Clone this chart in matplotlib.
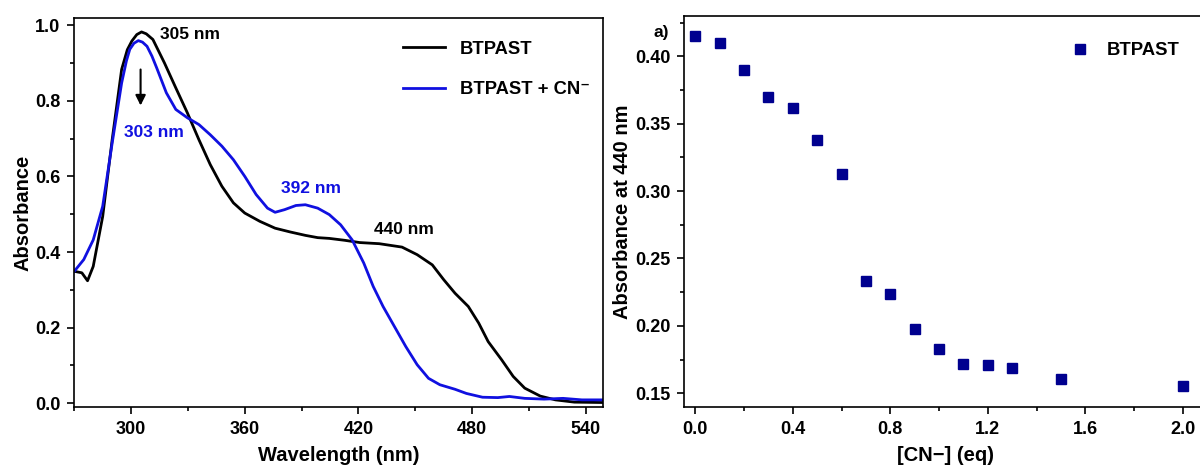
import matplotlib.pyplot as plt
from matplotlib.ticker import MultipleLocator

plt.rcParams['font.family'] = ['Liberation Sans', 'DejaVu Sans']
plt.rcParams['font.weight'] = 'bold'

# UV-vis spectra
wl_btpast = [270, 274, 277, 280, 285, 290, 295, 298, 300.4, 303, 305.5, 308, 311.5,
             317.6, 323.6, 329.7, 335.8, 341.8, 347.9, 354, 360, 368, 376, 384, 392,
             398.5, 404.6, 412.7, 420.7, 431, 443, 451, 459, 465, 471, 478, 483.5,
             488.5, 495.6, 501.7, 507.8, 516, 524, 534, 549]
abs_btpast = [0.349, 0.345, 0.324, 0.362, 0.494, 0.697, 0.883, 0.935, 0.958, 0.975,
              0.982, 0.977, 0.962, 0.900, 0.834, 0.768, 0.697, 0.631, 0.574, 0.530,
              0.503, 0.481, 0.463, 0.453, 0.444, 0.438, 0.436, 0.431, 0.425, 0.422,
              0.413, 0.393, 0.366, 0.327, 0.291, 0.256, 0.212, 0.163, 0.115, 0.071,
              0.040, 0.019, 0.009, 0.003, 0.002]

wl_cn = [270, 275, 280, 285, 290, 295, 297.5, 299.3, 301.5, 303.8, 306, 308.4, 311,
         313.5, 318.6, 323.6, 329.7, 335.8, 341.8, 347.9, 354, 360, 366, 372, 376,
         381, 387, 392, 398.5, 404.6, 410.6, 416.7, 422.8, 427.8, 433, 439, 445, 451,
         457, 463, 471, 477, 485.5, 493.6, 499.7, 507.8, 518, 528, 538, 549]
abs_cn = [0.349, 0.380, 0.432, 0.521, 0.688, 0.847, 0.905, 0.936, 0.952, 0.959, 0.955,
          0.944, 0.918, 0.887, 0.821, 0.777, 0.755, 0.737, 0.710, 0.680, 0.644, 0.600,
          0.552, 0.516, 0.505, 0.512, 0.523, 0.525, 0.516, 0.499, 0.472, 0.432, 0.371,
          0.309, 0.256, 0.203, 0.150, 0.102, 0.066, 0.049, 0.037, 0.026, 0.016, 0.015,
          0.018, 0.013, 0.011, 0.013, 0.009, 0.009]

# titration at 440 nm
cn_eq = [0.0, 0.1, 0.2, 0.3, 0.4, 0.5, 0.6, 0.7, 0.8, 0.9, 1.0, 1.1, 1.2, 1.3, 1.5, 2.0]
abs_440 = [0.4153, 0.4096, 0.3899, 0.3701, 0.3614, 0.3377, 0.3125, 0.2336, 0.2237,
           0.1980, 0.1831, 0.1715, 0.1713, 0.1690, 0.1604, 0.1554]

blue = '#1010e0'
navy = '#00008f'

fig = plt.figure(figsize=(12, 4.66), dpi=100)
ax1 = fig.add_axes([0.0619, 0.1273, 0.4409, 0.8334])
ax2 = fig.add_axes([0.5703, 0.1273, 0.4357, 0.8384])

for ax in (ax1, ax2):
    for s in ax.spines.values():
        s.set_linewidth(1.2)
    ax.tick_params(which='major', direction='out', length=5, width=1.2, labelsize=13, pad=5)
    ax.tick_params(which='minor', direction='out', length=3, width=1.2)
    ax.tick_params(top=False, right=False)

# left: spectra
ax1.plot(wl_btpast, abs_btpast, color='black', lw=2, label='BTPAST')
ax1.plot(wl_cn, abs_cn, color=blue, lw=2, label='BTPAST + CN\u207b')
ax1.set_xlim(270, 549.3)
ax1.set_ylim(-0.009, 1.018)
ax1.xaxis.set_major_locator(MultipleLocator(60))
ax1.xaxis.set_minor_locator(MultipleLocator(30))
ax1.yaxis.set_major_locator(MultipleLocator(0.2))
ax1.yaxis.set_minor_locator(MultipleLocator(0.1))
ax1.set_xlabel('Wavelength (nm)', fontsize=14.5, fontweight='bold', labelpad=6)
ax1.set_ylabel('Absorbance', fontsize=14.5, fontweight='bold', labelpad=2)
ax1.legend(loc='upper right', bbox_to_anchor=(1.005, 0.985), frameon=False,
           prop={'size': 13.2, 'weight': 'bold'}, handlelength=2.3, labelspacing=1.3)

ax1.text(315.5, 0.975, '305 nm', color='black', fontsize=12.5, fontweight='bold', va='center')
ax1.text(296.3, 0.715, '303 nm', color=blue, fontsize=12.5, fontweight='bold', va='center')
ax1.text(379.3, 0.567, '392 nm', color=blue, fontsize=12.5, fontweight='bold', va='center')
ax1.text(428.4, 0.459, '440 nm', color='black', fontsize=12.5, fontweight='bold', va='center')
ax1.annotate('', xy=(305, 0.78), xytext=(305, 0.89),
             arrowprops=dict(arrowstyle='-|>', color='black', lw=1.5, mutation_scale=15))

# right: absorbance at 440 nm vs equivalents
ax2.plot(cn_eq, abs_440, 's', color=navy, ms=7, label='BTPAST')
ax2.set_xlim(-0.045, 2.1)
ax2.set_ylim(0.140, 0.430)
ax2.xaxis.set_major_locator(MultipleLocator(0.4))
ax2.xaxis.set_minor_locator(MultipleLocator(0.2))
ax2.yaxis.set_major_locator(MultipleLocator(0.05))
ax2.yaxis.set_minor_locator(MultipleLocator(0.025))
ax2.xaxis.set_major_formatter(plt.FormatStrFormatter('%.1f'))
ax2.yaxis.set_major_formatter(plt.FormatStrFormatter('%.2f'))
ax2.set_xlabel('[CN\u2212] (eq)', fontsize=14.5, fontweight='bold', labelpad=6)
ax2.set_ylabel('Absorbance at 440 nm', fontsize=14.5, fontweight='bold', labelpad=2)
ax2.legend(loc='upper right', bbox_to_anchor=(0.98, 0.975), frameon=False,
           prop={'size': 13.3, 'weight': 'bold'}, handletextpad=0.45)
ax2.text(-0.17, 0.418, 'a)', fontsize=12.5, fontweight='bold', va='center', clip_on=False)

for ax in (ax1, ax2):
    for lab in ax.get_xticklabels() + ax.get_yticklabels():
        lab.set_fontweight('bold')

fig.savefig('out.png', dpi=100)
